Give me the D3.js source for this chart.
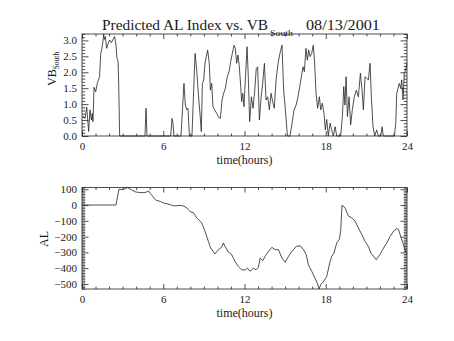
<!DOCTYPE html>
<html>
<head>
<meta charset="utf-8">
<script src="https://cdn.jsdelivr.net/npm/d3@7/dist/d3.min.js"></script>
<style>
  body { margin: 0; background: #fff; }
  svg text { font-family: "Liberation Serif", "DejaVu Serif", serif; fill: #1a1a1a; }
</style>
</head>
<body>
<svg id="chart" width="454" height="341"></svg>
<script>
// Tick labels
const hourTicks = [0, 6, 12, 18, 24];
const vbTicks = [0, 0.5, 1.0, 1.5, 2.0, 2.5, 3.0];
const alTicks = [100, 0, -100, -200, -300, -400, -500];

// Southward IMF component (VB_South), hours since 00 UT
const vbTime = [0.10,0.22,0.35,0.49,0.59,0.69,0.76,0.81,0.89,1.01,1.13,1.23,1.30,1.38,1.45,1.53,1.60,1.65,1.72,1.82,1.92,2.04,2.17,2.29,2.41,2.51,2.58,2.66,2.71,2.78,
  4.65,4.73,4.80,6.55,6.65,6.72,6.79,7.31,7.43,7.53,7.63,7.73,7.83,7.93,8.12,8.35,8.47,8.59,8.72,8.81,8.89,8.99,9.08,9.18,9.28,9.40,9.48,9.58,9.67,9.80,9.95,
  10.09,10.22,10.34,10.46,10.59,10.73,10.86,10.98,11.10,11.23,11.32,11.42,11.52,11.62,11.72,11.79,11.87,11.96,12.06,12.19,12.28,12.38,12.51,12.63,12.75,12.87,12.97,
  13.10,13.22,13.34,13.47,13.59,13.71,13.84,13.96,14.08,14.20,14.33,14.48,14.62,14.77,14.89,15.02,15.17,15.36,15.51,15.66,15.81,15.95,16.08,16.20,16.32,16.42,16.54,16.64,16.74,
  16.84,16.96,17.08,17.18,17.28,17.40,17.53,17.63,17.75,17.87,17.97,18.07,18.19,18.32,18.44,18.56,18.69,18.81,19.10,19.23,19.33,19.42,19.50,19.60,19.72,19.84,19.96,
  20.11,20.26,20.41,20.56,20.68,20.78,20.90,21.03,21.15,21.27,21.37,21.49,21.62,21.76,21.88,22.06,22.16,22.25,23.07,23.17,23.24,23.34,23.43,23.54,23.61,23.71,23.80,23.90,23.98];
const vbValue = [0.62,0.55,0.90,0.14,0.82,0.50,0.71,0.45,1.53,1.39,1.65,1.78,1.86,2.59,2.70,2.91,3.20,3.03,3.12,2.75,2.89,3.01,2.93,3.03,3.12,2.85,2.44,2.36,1.65,0,
  0,0.87,0,0,0.55,0.40,0,0,0.92,1.65,0.97,0.82,0.87,0,0,2.59,2.07,1.34,0.66,0.14,1.65,1.76,2.28,2.49,2.70,2.28,1.44,1.65,0.92,0.82,0.71,
  0.59,0.55,1.13,1.34,1.50,1.86,2.02,2.33,2.59,2.85,2.75,2.28,2.54,2.17,1.55,1.08,1.34,0.92,1.76,2.80,1.86,0.45,1.23,0.87,1.39,2.12,2.17,
  0.50,1.18,1.65,2.28,1.13,1.23,0.82,1.34,1.08,0.87,1.76,2.28,2.60,2.85,1.44,0.82,0,0,0.40,0.82,0.97,1.23,1.55,1.86,2.17,2.02,2.75,2.38,2.70,
  2.49,2.59,2.85,2.28,1.34,0.87,1.23,0.82,1.03,0.71,0.19,0.52,0,0.40,0.19,0,0.29,0,0,0.61,1.55,0.97,1.86,0.61,1.23,0.35,0.82,
  1.23,1.44,1.23,1.97,1.44,0.82,1.86,1.81,1.76,2.28,1.23,0.29,0,0.19,0,0,0.29,0,0,0.40,1.34,1.50,1.65,1.50,1.76,1.13,1.97,2.07,2.28];

// Predicted AL index (nT)
const alTime = [0,2.51,2.73,2.95,3.15,3.35,3.50,3.70,3.95,4.19,4.45,4.68,4.93,5.05,5.17,5.30,5.47,5.78,6.03,6.28,6.52,6.77,7.02,7.24,7.48,7.73,7.98,8.22,8.47,8.84,
  9.08,9.33,9.50,9.82,10.07,10.31,10.44,10.56,10.81,11.06,11.30,11.55,11.80,12.05,12.22,12.41,12.66,12.85,13.03,13.15,13.35,13.52,13.77,14.02,14.26,14.51,14.76,
  15.00,15.25,15.50,15.82,16.11,16.36,16.56,16.72,16.97,17.21,17.38,17.51,17.63,17.83,18.07,18.32,18.44,18.61,18.81,19.00,19.10,19.20,19.42,19.67,19.92,
  20.16,20.41,20.66,20.90,21.15,21.33,21.53,21.72,21.90,22.07,22.27,22.51,22.76,23.00,23.25,23.37,23.57,23.74,23.94,24.00];
const alValue = [0,0,100,97,102,111,104,94,83,80,78,80,88,72,62,45,30,23,12,8,2,-5,-4,-2,-6,-17,-42,-48,-81,-113,
  -166,-230,-272,-310,-283,-268,-240,-262,-298,-315,-358,-390,-411,-411,-400,-420,-400,-411,-394,-336,-353,-325,-294,-268,-283,-283,-336,
  -362,-325,-294,-262,-258,-283,-315,-379,-421,-464,-496,-532,-504,-485,-453,-358,-325,-304,-240,-219,-166,-2,-17,-70,-81,
  -102,-145,-187,-230,-262,-304,-325,-347,-325,-304,-272,-240,-198,-166,-149,-155,-208,-251,-304,-310];

const svg = d3.select("#chart");
const ink = "#222";

function panel(opts) {
  const { y0, y1, x0, x1, xDomain, yDomain, times, values, yTicks, yMinorStep, yFormat } = opts;
  const x = d3.scaleLinear().domain(xDomain).range([x0, x1]);
  const y = d3.scaleLinear().domain(yDomain).range([y1, y0]);
  const g = svg.append("g");

  const xMinor = d3.range(xDomain[0], xDomain[1] + 0.001, 1).filter(v => v % 6 !== 0);
  const [yLo, yHi] = yDomain;
  const yMinor = d3.range(Math.ceil(yLo / yMinorStep) * yMinorStep, yHi + 1e-9, yMinorStep)
    .filter(v => !yTicks.some(t => Math.abs(t - v) < 1e-6));

  function axis(gen, scale, pos, vals, size, labels, padding) {
    const a = gen(scale).tickValues(vals).tickSizeInner(-size).tickSizeOuter(0)
      .tickPadding(padding || 0).tickFormat(labels ? labels : () => "");
    const ag = g.append("g").attr("transform", pos).call(a);
    ag.select(".domain").remove();
    ag.selectAll("line").attr("stroke", ink).attr("stroke-width", 0.8);
    ag.selectAll("text").attr("font-size", 11).attr("fill", "#1a1a1a")
      .attr("font-family", "Liberation Serif, DejaVu Serif, serif");
    return ag;
  }

  // bottom / top time axes
  axis(d3.axisBottom, x, `translate(0,${y1})`, hourTicks, 5, d => d3.format("d")(d), 6);
  axis(d3.axisBottom, x, `translate(0,${y1})`, xMinor, 2.5);
  axis(d3.axisTop, x, `translate(0,${y0})`, hourTicks, 5);
  axis(d3.axisTop, x, `translate(0,${y0})`, xMinor, 2.5);
  // left / right value axes
  axis(d3.axisLeft, y, `translate(${x0},0)`, yTicks, 6.5, yFormat, 5);
  axis(d3.axisLeft, y, `translate(${x0},0)`, yMinor, 3.2);
  axis(d3.axisRight, y, `translate(${x1},0)`, yTicks, 6.5);
  axis(d3.axisRight, y, `translate(${x1},0)`, yMinor, 3.2);

  g.append("rect")
    .attr("x", x0).attr("y", y0)
    .attr("width", x1 - x0).attr("height", y1 - y0)
    .attr("fill", "none").attr("stroke", ink).attr("stroke-width", 0.8);

  const line = d3.line().x((d, i) => x(times[i])).y(d => y(d));
  g.append("path").datum(values)
    .attr("d", line).attr("fill", "none")
    .attr("stroke", ink).attr("stroke-width", 0.8);

  g.append("text")
    .attr("x", (x0 + x1) / 2).attr("y", y1 + 28)
    .attr("text-anchor", "middle").attr("font-size", 12)
    .text("time(hours)");

  return { x, y, g };
}

const intFmt = d3.format("d");
const vbPanel = panel({
  y0: 34, y1: 136, x0: 82, x1: 407,
  xDomain: [0, 24], yDomain: [0, d3.max(vbValue)],
  times: vbTime, values: vbValue,
  yTicks: vbTicks, yMinorStep: 0.1, yFormat: d3.format(".1f")
});

const alPanel = panel({
  y0: 187.5, y1: 289, x0: 82, x1: 407,
  xDomain: [0, 24], yDomain: d3.extent(alValue),
  times: alTime, values: alValue,
  yTicks: alTicks, yMinorStep: 10, yFormat: d => intFmt(d).replace("-", "\u2212")
});

// Title
const title = svg.append("g");
title.append("text").attr("x", 102).attr("y", 30).attr("font-size", 15)
  .attr("textLength", 166).attr("lengthAdjust", "spacingAndGlyphs")
  .text("Predicted AL Index vs. VB");
title.append("text").attr("x", 270).attr("y", 35.5).attr("font-size", 8)
  .attr("textLength", 23).attr("lengthAdjust", "spacingAndGlyphs")
  .text("South");
title.append("text").attr("x", 306).attr("y", 30).attr("font-size", 15)
  .attr("textLength", 74).attr("lengthAdjust", "spacingAndGlyphs")
  .text("08/13/2001");

// Y-axis titles
const vbLab = svg.append("text")
  .attr("transform", "translate(56,86) rotate(-90)")
  .attr("font-size", 12);
vbLab.append("tspan").text("VB");
vbLab.append("tspan").attr("font-size", 7.5).attr("dy", 3).text("South");

svg.append("text")
  .attr("transform", "translate(48,239) rotate(-90)")
  .attr("text-anchor", "middle").attr("font-size", 12)
  .text("AL");
</script>
</body>
</html>
